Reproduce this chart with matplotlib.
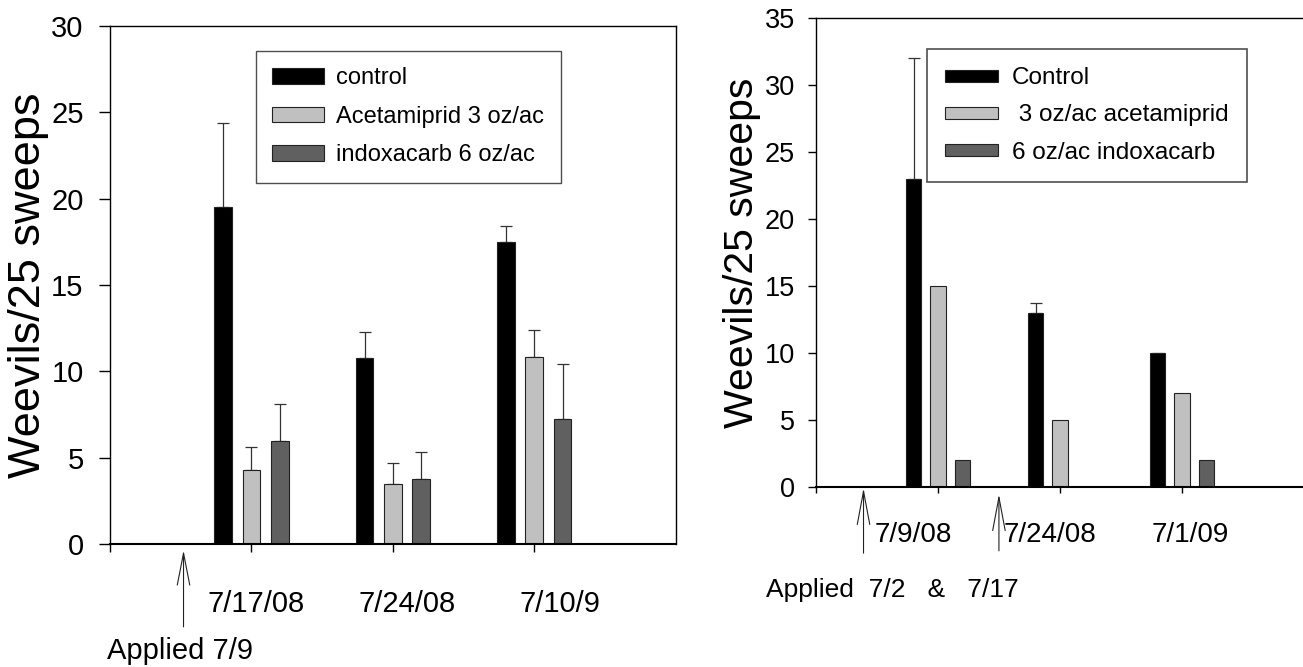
import matplotlib
matplotlib.use("Agg")
import matplotlib.pyplot as plt
import numpy as np

# left chart (2008 / 2009, single application)
left_dates = ["7/17/08", "7/24/08", "7/10/9"]
left_names = ["control", "Acetamiprid 3 oz/ac", "indoxacarb 6 oz/ac"]
left_control = [19.5, 10.8, 17.5]
left_acet = [4.3, 3.45, 10.85]
left_indox = [5.95, 3.75, 7.25]
left_control_err = [4.9, 1.5, 0.9]
left_acet_err = [1.3, 1.25, 1.55]
left_indox_err = [2.15, 1.55, 3.15]

# right chart (two applications)
right_dates = ["7/9/08", "7/24/08", "7/1/09"]
right_names = ["Control", " 3 oz/ac acetamiprid", "6 oz/ac indoxacarb"]
right_control = [23, 13, 10]
right_acet = [15, 5, 7]
right_indox = [2, 0, 2]
right_control_err = [9.0, 0.7, np.nan]

colors = ["#000000", "#c0c0c0", "#606060"]
font = ["Liberation Sans", "DejaVu Sans"]

fig = plt.figure(figsize=(13.03, 6.67), dpi=100)
ax1 = fig.add_axes([0.0844, 0.1844, 0.4342, 0.7766])
ax2 = fig.add_axes([0.6262, 0.2703, 0.3745, 0.7023])

groups = np.arange(1, 4)
offsets = [-0.2, 0.0, 0.2]
bw = 0.125


def draw_bars(ax, series, errs, names):
    for vals, err, off, col, name in zip(series, errs, offsets, colors, names):
        ax.bar(groups + off, vals, width=bw, color=col, edgecolor="#222222",
               linewidth=0.8, label=name, zorder=2)
        if err is not None:
            err = np.array(err, dtype=float)
            ax.errorbar(groups + off, vals, yerr=[np.zeros(3), err], fmt="none",
                        ecolor="#333333", elinewidth=0.9, capsize=4, capthick=0.9,
                        zorder=1)


def style_axes(ax, ymax, fs, ticklen, pad):
    ax.set_xlim(0, 4)
    ax.set_ylim(0, ymax)
    ax.set_xticks([0, 1, 2, 3])
    ax.set_xticklabels([])
    ax.tick_params(axis="x", direction="out", length=ticklen - 2, width=1)
    ax.tick_params(axis="y", direction="out", length=ticklen, width=1,
                   labelsize=fs, pad=pad)
    for lab in ax.get_yticklabels():
        lab.set_family(font)
    for s in ax.spines.values():
        s.set_linewidth(1.0)
    ax.spines["bottom"].set_linewidth(1.5)


# ---- left ----
draw_bars(ax1, [left_control, left_acet, left_indox],
          [left_control_err, left_acet_err, left_indox_err], left_names)
style_axes(ax1, 30, 21, 8, 11)
ax1.set_yticks(range(0, 31, 5))
ax1.set_ylabel("Weevils/25 sweeps", fontsize=32.5, family=font)
ax1.yaxis.set_label_coords(-0.108, 0.5)
tr1 = ax1.get_xaxis_transform()
for x, d in zip([1.03, 2.1, 3.18], left_dates):
    ax1.text(x, -0.116, d, transform=tr1, ha="center", va="center",
             fontsize=21, family=font)
ax1.text(-0.02, -0.207, "Applied 7/9", transform=tr1, ha="left", va="center",
         fontsize=21, family=font)
ax1.annotate("", xy=(0.52, -0.012), xytext=(0.52, -0.16), xycoords=tr1,
             textcoords=tr1, annotation_clip=False,
             arrowprops=dict(arrowstyle="->,head_length=2.3,head_width=0.45",
                             mutation_scale=10, shrinkA=0, shrinkB=0,
                             lw=0.8, color="#222222"))
leg1 = ax1.legend(loc="upper left", bbox_to_anchor=(0.258, 0.952),
                  prop=dict(family=font, size=17), frameon=True,
                  fancybox=False, edgecolor="#222222", handlelength=2.2,
                  handleheight=0.63, handletextpad=0.5, borderpad=0.7,
                  labelspacing=0.7, borderaxespad=0)
leg1.get_frame().set_linewidth(1.0)

# ---- right ----
draw_bars(ax2, [right_control, right_acet, right_indox],
          [right_control_err, None, None], right_names)
style_axes(ax2, 35, 19.5, 6, 9)
ax2.set_yticks(range(0, 36, 5))
ax2.set_ylabel("Weevils/25 sweeps", fontsize=29.5, family=font)
ax2.yaxis.set_label_coords(-0.113, 0.5)
tr2 = ax2.get_xaxis_transform()
for x, d in zip([0.8, 1.92, 3.07], right_dates):
    ax2.text(x, -0.103, d, transform=tr2, ha="center", va="center",
             fontsize=20, family=font)
ax2.text(-0.41, -0.2205, "Applied  7/2   &   7/17", transform=tr2,
         ha="left", va="center", fontsize=19, family=font)
for x, tip, tail in [(0.39, -0.003, -0.142), (1.5, -0.016, -0.137)]:
    ax2.annotate("", xy=(x, tip), xytext=(x, tail), xycoords=tr2,
                 textcoords=tr2, annotation_clip=False,
                 arrowprops=dict(arrowstyle="->,head_length=2.4,head_width=0.45",
                                 mutation_scale=10, shrinkA=0, shrinkB=0,
                                 lw=0.8, color="#222222"))
leg2 = ax2.legend(loc="upper left", bbox_to_anchor=(0.227, 0.934),
                  prop=dict(family=font, size=17.5), frameon=True,
                  fancybox=False, edgecolor="#222222", handlelength=2.2,
                  handleheight=0.4, handletextpad=0.56, borderpad=0.75,
                  labelspacing=0.62, borderaxespad=0)
leg2.get_frame().set_linewidth(1.2)

fig.savefig("out.png", dpi=100)
